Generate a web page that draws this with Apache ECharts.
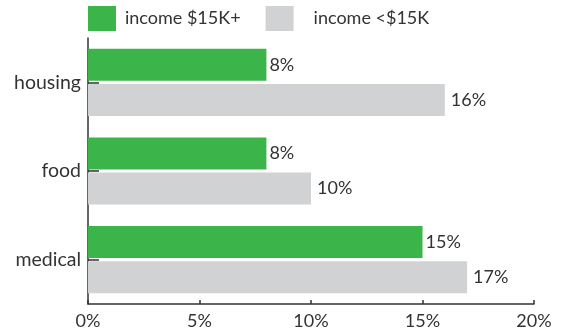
<!DOCTYPE html>
<html>
<head>
<meta charset="utf-8">
<script src="https://cdn.jsdelivr.net/npm/echarts@6/dist/echarts.min.js"></script>
<style>
html,body{margin:0;padding:0;background:#fff;}
#chart{width:566px;height:330px;}
</style>
</head>
<body>
<div id="chart"></div>
<script>
var categories = ['housing', 'food', 'medical'];
var seriesNames = ['income $15K+', 'income <$15K'];
var highIncome = [8, 8, 15];
var lowIncome = [16, 10, 17];
var xTicks = [0, 5, 10, 15, 20];

var FONT = 'Lato';
var TEXT = '#333333';
var chart = echarts.init(document.getElementById('chart'));
chart.setOption({
  animation: false,
  textStyle: { fontFamily: FONT },
  legend: {
    left: 88, top: 6, padding: 0,
    itemWidth: 28, itemHeight: 25, itemGap: 25,
    icon: 'rect',
    data: [
      { name: seriesNames[0], textStyle: { padding: [0, 0, 0, 4] } },
      { name: seriesNames[1], textStyle: { padding: [0, 0, 0, 15] } }
    ],
    textStyle: { fontFamily: FONT, fontSize: 18, color: TEXT }
  },
  grid: { left: 88, right: 32, top: 38, bottom: 26 },
  xAxis: {
    type: 'value',
    min: xTicks[0], max: xTicks[xTicks.length - 1], interval: 5,
    axisLine: { show: true, lineStyle: { color: TEXT, width: 1.5 } },
    axisTick: { show: true, inside: true, length: 4, lineStyle: { color: TEXT, width: 1.5 } },
    splitLine: { show: false },
    axisLabel: { formatter: '{value}%', fontFamily: FONT, fontSize: 18, color: TEXT, margin: 8 }
  },
  yAxis: {
    type: 'category',
    data: categories,
    inverse: true,
    axisLine: { show: true, lineStyle: { color: TEXT, width: 1.5 } },
    axisTick: { show: true, inside: true, alignWithLabel: true, length: 11, lineStyle: { color: TEXT, width: 1.5 } },
    axisLabel: { fontFamily: FONT, fontSize: 19.5, color: TEXT, margin: 7 }
  },
  series: [
    {
      name: seriesNames[0], type: 'bar', data: highIncome,
      barWidth: 32, barGap: '10%',
      itemStyle: { color: '#3BB54A' },
      label: { show: true, position: 'right', distance: 3, formatter: '{c}%', fontFamily: FONT, fontSize: 18, color: TEXT }
    },
    {
      name: seriesNames[1], type: 'bar', data: lowIncome,
      barWidth: 32, barGap: '10%',
      itemStyle: { color: '#D1D2D4' },
      label: { show: true, position: 'right', distance: 6, formatter: '{c}%', fontFamily: FONT, fontSize: 18, color: TEXT }
    }
  ]
});
</script>
</body>
</html>
